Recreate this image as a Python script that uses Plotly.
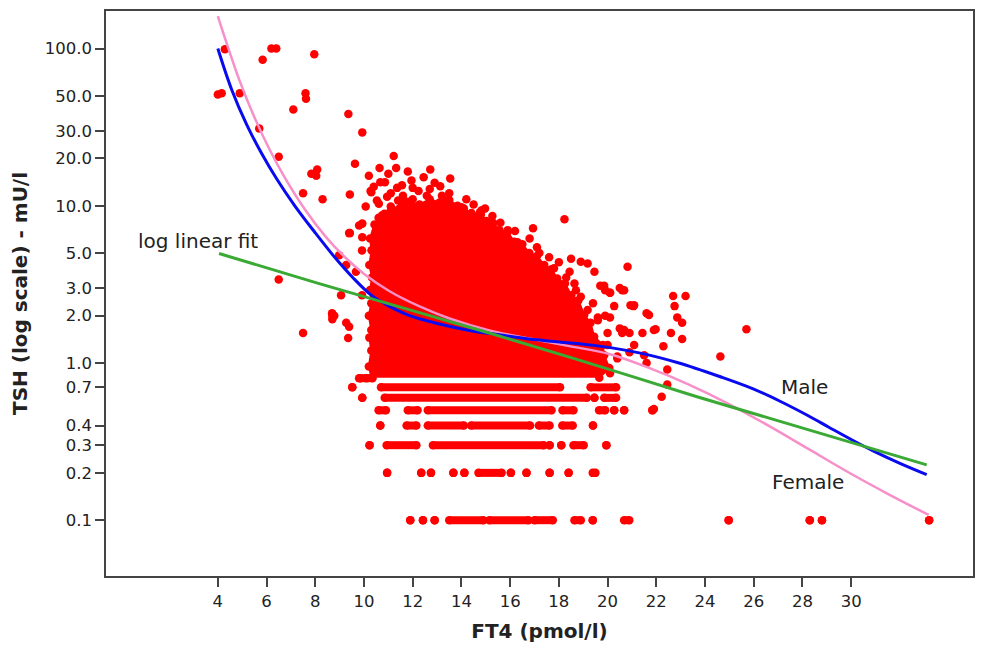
import plotly.graph_objects as go

# ---------------- data ----------------
# individual scattered points (FT4, TSH)
pts_x = [4.29, 4.0, 4.16, 4.9, 5.84, 6.2, 6.4, 7.96, 7.6, 7.62, 7.1, 5.7, 6.5, 7.84, 8.08, 8.04,
         7.5, 8.3, 6.5, 7.5, 8.7, 8.7, 8.69, 9.27, 9.35,
         9.36, 9.93, 11.22, 11.32, 9.63, 10.64, 12.72, 12.45, 13.54, 11.95, 10.67, 10.86, 11.56,
         11.36, 10.27, 12.24, 13.13, 13.2, 9.42, 10.95, 11.56, 12.58, 10.07, 10.61, 13.8, 14.0,
         10.75, 11.49, 11.97, 9.93, 9.42, 14.83, 14.97, 14.76, 15.27, 18.23, 15.9, 16.94, 15.71,
         16.8, 9.8, 10.53, 11.4, 11.8, 12.6, 13.0, 12.3, 13.9, 14.6, 9.93, 10.5, 10.3,
         9.39, 8.98, 9.92, 9.27, 9.67, 9.06, 9.92, 8.78, 9.39,
         16.3, 17.1, 17.6, 18.0, 18.5, 19.18, 19.46, 20.82, 19.86, 20.68, 21.09, 20.27, 19.18,
         19.6, 20.68, 21.43, 20.0, 21.09, 21.5, 20.4, 18.9, 18.44, 18.64, 18.9, 19.7, 20.1, 20.5,
         21.9, 21.6, 20.94, 20.5, 19.9, 20.1, 20.6, 22.69, 23.2, 22.75, 21.06, 21.7, 22.86, 23.06,
         22.6, 23.06, 21.97, 22.29, 25.7, 24.63, 22.45, 21.6, 22.45, 22.22, 21.9, 20.1, 20.4,
         20.9, 20.6, 20.9, 19.6, 20.1, 20.0, 9.8, 10.1,
         10.2, 11.0, 11.8, 12.0, 12.9, 10.4, 11.1, 12.7, 13.5, 14.2, 14.5, 12.0, 13.4, 11.6,
         15.6, 16.2, 17.2, 17.8, 18.3, 18.7, 19.4, 19.9]
pts_y = [99, 51, 52, 52, 85, 100, 100, 92, 52, 48, 41, 31, 20.5, 16, 17, 15.5,
         12, 11, 3.4, 1.55, 2.0, 1.9, 2.07, 1.8, 1.44,
         38.4, 29.3, 20.7, 17.4, 18.5, 17.4, 17.0, 15.2, 14.9, 14.5, 14.1, 14.1, 13.5,
         13.0, 12.4, 12.4, 13.3, 11.6, 11.8, 11.4, 10.5, 11.6, 9.9, 10.3, 9.8, 9.8,
         8.7, 8.3, 9.35, 7.7, 6.7, 9.35, 9.6, 9.1, 8.6, 8.2, 7.0, 7.2, 6.3,
         6.2, 7.5, 10.8, 10.8, 10.1, 9.7, 10.1, 8.4, 8.2, 7.3, 6.3, 7.0, 12.2,
         6.7, 4.84, 5.2, 4.2, 3.8, 2.7, 2.7, 2.0, 1.7,
         5.86, 5.45, 4.7, 4.37, 4.6, 4.3, 3.8, 4.1, 3.1, 2.9, 2.33, 2.3, 2.17,
         1.87, 1.62, 1.55, 1.55, 1.30, 1.12, 1.07, 4.4, 3.8, 3.2, 2.64, 3.1, 2.8, 3.0,
         1.62, 2.07, 2.33, 1.66, 2.9, 2.8, 2.9, 2.67, 2.67, 2.3, 2.3, 2.02, 1.95, 1.8,
         1.55, 1.42, 1.64, 1.28, 1.64, 1.10, 0.91, 1.0, 0.73, 0.61, 0.51, 0.86, 1.1,
         1.17, 1.55, 1.55, 1.95, 1.95, 1.3, 0.8, 0.8,
         15.5, 16.0, 16.5, 13.0, 14.0, 13.2, 12.0, 12.8, 12.0, 11.0, 10.2, 11.0, 10.8, 11.6,
         7.8, 6.9, 5.0, 4.0, 3.5, 2.9, 2.4, 2.0]

# outline of the solid dense cloud (FT4, TSH), traced along its ragged edge
core_x = [10.31, 10.2, 10.3, 10.22, 10.3, 10.2, 10.3, 10.25, 10.33, 10.22, 10.31, 10.25,
          10.43, 10.6, 10.84, 11.1, 11.46, 11.8, 12.28, 12.7, 13.1, 13.5, 13.84, 14.1,
          14.41, 14.8, 15.02, 15.3, 15.56, 15.9, 16.17, 16.5, 16.79, 17.1, 17.4, 17.7,
          17.93, 18.25, 18.51, 18.8, 19.04, 19.3, 19.45, 19.8, 19.86, 20.07, 19.66]
core_y = [0.805, 0.95, 1.2, 1.45, 1.62, 2.0, 2.4, 2.91, 3.5, 4.2, 5.21, 6.2,
          7.6, 8.4, 8.9, 9.9, 9.6, 10.6, 10.2, 11.0, 10.5, 10.9, 10.0, 9.6,
          9.0, 8.8, 8.0, 7.8, 7.0, 6.8, 5.9, 5.7, 5.0, 4.8, 4.2, 3.95,
          3.45, 3.2, 2.7, 2.5, 2.02, 1.8, 1.47, 1.3, 1.12, 0.93, 0.805]

# discrete low TSH values: runs of FT4 values (start, end) with points all along
tsh_levels = [0.8, 0.7, 0.6, 0.5, 0.4, 0.3, 0.2, 0.1]
runs_08 = [(9.85, 10.35)]
runs_07 = [(9.52, 9.52), (10.7, 18.05), (19.3, 20.35)]
runs_06 = [(9.93, 9.93), (10.85, 19.15), (19.46, 19.46), (19.86, 20.35)]
runs_05 = [(10.6, 10.9), (11.8, 12.2), (12.62, 17.7), (18.15, 18.6), (19.65, 19.9),
           (20.27, 20.27), (20.68, 20.68), (21.84, 21.84)]
runs_04 = [(10.67, 10.67), (11.75, 12.15), (12.62, 14.1), (14.4, 16.82), (17.18, 17.62),
           (18.14, 18.57), (19.4, 19.4)]
runs_03 = [(10.23, 10.23), (10.93, 12.15), (12.83, 17.38), (17.62, 17.62), (18.1, 18.1),
           (18.6, 19.02), (19.95, 19.95)]
runs_02 = [(10.95, 10.95), (12.35, 12.35), (12.75, 12.75), (13.67, 13.67), (14.12, 14.12),
           (14.7, 15.65), (16.03, 16.03), (16.67, 16.67), (17.62, 17.62), (18.4, 18.4),
           (19.39, 19.5)]
runs_01 = [(11.9, 11.9), (12.42, 12.42), (12.9, 12.9), (13.5, 14.9), (15.15, 16.75),
           (17.0, 17.75), (18.64, 18.9), (19.39, 19.39), (20.68, 20.89), (24.97, 24.97),
           (28.3, 28.3), (28.8, 28.8), (33.2, 33.2)]
all_runs = [runs_08, runs_07, runs_06, runs_05, runs_04, runs_03, runs_02, runs_01]

# fitted curves
male_x = [4.0, 4.57, 5.19, 5.80, 6.42, 7.16, 7.98, 8.80, 9.53, 10.31, 11.05, 11.87, 13.10,
          14.33, 15.56, 16.79, 18.02, 19.66, 21.30, 22.93, 24.6, 26.0, 27.1, 28.2, 29.1,
          30.0, 30.9, 32.0, 33.1]
male_y = [100, 54.7, 32.7, 21.5, 14.8, 10.0, 6.79, 4.70, 3.51, 2.69, 2.29, 2.0, 1.77,
          1.61, 1.51, 1.42, 1.36, 1.28, 1.16, 1.0, 0.82, 0.682, 0.569, 0.465, 0.389,
          0.326, 0.276, 0.23, 0.195]
female_x = [4.0, 4.29, 4.90, 5.52, 6.13, 6.75, 7.57, 8.39, 9.20, 10.02, 11.05, 12.28, 13.51,
            15.15, 16.79, 18.43, 20.07, 21.70, 23.34, 24.98, 26.62, 28.26, 29.90, 31.54, 33.18]
female_y = [161, 117, 62.1, 36.1, 22.7, 15.1, 9.5, 6.46, 4.74, 3.67, 2.86, 2.29, 1.92,
            1.61, 1.43, 1.28, 1.14, 0.93, 0.728, 0.548, 0.398, 0.283, 0.201, 0.146, 0.108]
loglin_x = [4.05, 8.16, 14.97, 19.5, 23.67, 33.1]
loglin_y = [4.97, 3.2, 1.58, 0.97, 0.61, 0.225]

x_ticks = [4, 6, 8, 10, 12, 14, 16, 18, 20, 22, 24, 26, 28, 30]
y_ticks = [0.1, 0.2, 0.3, 0.4, 0.7, 1.0, 2.0, 3.0, 5.0, 10.0, 20.0, 30.0, 50.0, 100.0]
y_ticktext = ["0.1", "0.2", "0.3", "0.4", "0.7", "1.0", "2.0", "3.0", "5.0",
              "10.0", "20.0", "30.0", "50.0", "100.0"]

# ---------------- figure ----------------
RED = "#ff0000"
FONT = "DejaVu Sans"
fig = go.Figure()

# dense cloud
fig.add_trace(go.Scatter(x=core_x, y=core_y, mode="lines+markers", fill="toself",
                         fillcolor=RED, line=dict(color=RED, width=2),
                         marker=dict(color=RED, size=8.5),
                         hoverinfo="skip", showlegend=False))

# discrete-level rows
rx, ry = [], []
for lev, runs in zip(tsh_levels, all_runs):
    for a, b in runs:
        rx += [a, b, None]
        ry += [lev, lev, None]
fig.add_trace(go.Scatter(x=rx, y=ry, mode="lines+markers",
                         line=dict(color=RED, width=8),
                         marker=dict(color=RED, size=8.5),
                         hoverinfo="skip", showlegend=False))

# individual points
fig.add_trace(go.Scatter(x=pts_x, y=pts_y, mode="markers",
                         marker=dict(color=RED, size=8.5), showlegend=False))

# fit curves
fig.add_trace(go.Scatter(x=female_x, y=female_y, mode="lines", line_shape="spline",
                         line=dict(color="#f78fc8", width=2.5), showlegend=False))
fig.add_trace(go.Scatter(x=male_x, y=male_y, mode="lines", line_shape="spline",
                         line=dict(color="#0a0af0", width=3), showlegend=False))
fig.add_trace(go.Scatter(x=loglin_x, y=loglin_y, mode="lines", line_shape="spline",
                         line=dict(color="#3aaa35", width=3), showlegend=False))

ann_font = dict(family=FONT, size=20, color="#222222")
fig.add_annotation(x=0.65, y=0.774, text="log linear fit", showarrow=False,
                   xanchor="left", yanchor="middle", font=ann_font)
fig.add_annotation(x=27.05, y=-0.152, text="Male", showarrow=False,
                   xanchor="left", yanchor="middle", font=ann_font)
fig.add_annotation(x=26.65, y=-0.754, text="Female", showarrow=False,
                   xanchor="left", yanchor="middle", font=ann_font)

axis_common = dict(showline=True, linecolor="#444444", linewidth=1.5, mirror=True,
                   ticks="outside", ticklen=9, tickcolor="#444444", tickwidth=1.5,
                   showgrid=False, zeroline=False,
                   tickfont=dict(family=FONT, size=16.5, color="#222222"))

fig.update_xaxes(range=[-0.59, 35.0], tickvals=x_ticks, **axis_common,
                 title=dict(text="<b>FT4 (pmol/l)</b>", standoff=14,
                            font=dict(family=FONT, size=20, color="#222222")))
fig.update_yaxes(type="log", range=[-1.355, 2.239], tickvals=y_ticks, ticktext=y_ticktext,
                 **axis_common,
                 title=dict(text="<b>TSH (log scale) - mU/l</b>", standoff=12,
                            font=dict(family=FONT, size=20, color="#222222")))

fig.update_layout(width=984, height=648, margin=dict(l=106, r=9, t=10, b=71),
                  paper_bgcolor="white", plot_bgcolor="white", showlegend=False)

fig.write_html("out.html")
